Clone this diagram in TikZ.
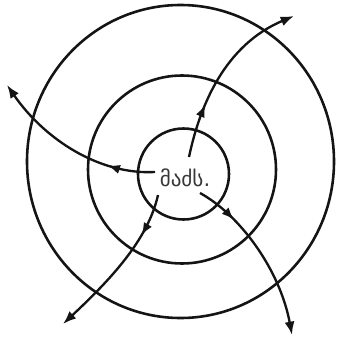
\documentclass[tikz,border=0pt]{standalone}
\usepackage{fontspec}
\usepackage{tikz}
\usepackage{xcolor}
\usetikzlibrary{arrows.meta,decorations.markings}
\newfontfamily\geofont{DejaVu Sans}
\definecolor{ink}{HTML}{141414}
\tikzset{
  ring/.style={draw=ink, line width=2.2pt},
  flow/.style={draw=ink, line width=2pt, -{Latex[length=4mm,width=3mm]}},
  midtip/.style={postaction={decorate},
                 decoration={markings, mark=at position #1 with {\arrow{Latex[length=3.8mm,width=2.8mm]}}}},
  label/.style={font=\geofont\fontsize{18}{18}\selectfont, text=ink!85, inner sep=1pt}
}
\begin{document}
\begin{tikzpicture}[x=0.03cm,y=-0.03cm]
  \useasboundingbox (0,0) rectangle (337,339);

  % rings
  \draw[ring] (180.5,161.5) circle[x radius=153.5, y radius=156.5];
  \draw[ring] (182,169.5) circle[radius=94];
  \draw[ring] (183.5,174) circle[radius=45.5];

  % centre
  \node[label] (centre) at (185,178) {მაძს.};

  % ends of the arrows
  \coordinate (s1) at (189,157);
  \coordinate (e1) at (294,16);
  \coordinate (s2) at (155,172);
  \coordinate (e2) at (7,85);
  \coordinate (s3) at (158,195);
  \coordinate (e3) at (63,324);
  \coordinate (s4) at (200,193);
  \coordinate (e4) at (292,335);

  % arrows
  \draw[flow, midtip=0.3] (s1) .. controls (200,105) and (225,45) .. (e1);
  \draw[flow, midtip=0.27] (s2) .. controls (100,175) and (45,140) .. (e2);
  \draw[flow, midtip=0.27] (s3) .. controls (148,240) and (110,280) .. (e3);
  \draw[flow, midtip=0.25] (s4) .. controls (240,215) and (280,270) .. (e4);
\end{tikzpicture}
\end{document}
